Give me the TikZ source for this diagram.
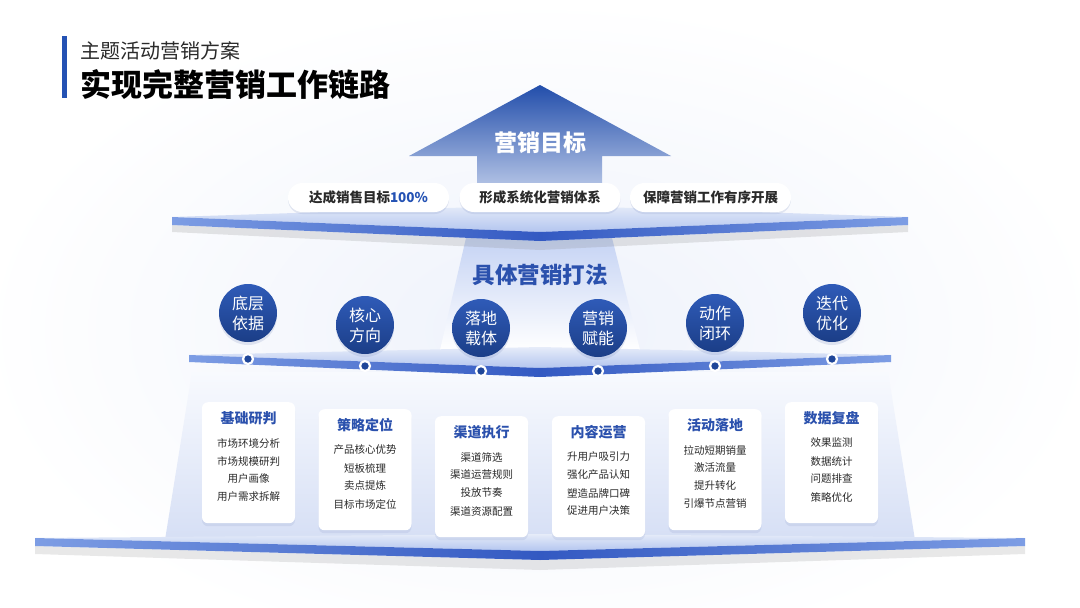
\documentclass[tikz,border=0pt]{standalone}
\usepackage{fontspec}
\setmainfont{Noto Sans CJK SC}
\usetikzlibrary{shadows}
\definecolor{deepblue}{HTML}{2452B4}
\definecolor{headblue}{HTML}{2B51AD}
\definecolor{textdark}{HTML}{2A2A2A}
\definecolor{glow}{HTML}{EEF2FB}
\definecolor{shadowblue}{HTML}{7D8FC0}
\definecolor{surfacetop}{HTML}{E6ECF9}
\definecolor{surfacebot}{HTML}{B3C5EF}
\definecolor{edgelight}{HTML}{7D9DE4}
\definecolor{edgedark}{HTML}{3359C2}
\definecolor{beamblue}{HTML}{C5D3F4}
\definecolor{backlight}{HTML}{F8FAFE}
\definecolor{backdark}{HTML}{D6DFF5}
\newcommand{\fsz}[2]{\fontsize{#1}{#2}\selectfont}
\tikzset{
	pill/.style={fill=white, rounded corners=14.5pt, minimum width=161, minimum height=29, inner sep=0,
		font=\fsz{13.5}{16}\bfseries, text=textdark,
		drop shadow={shadow xshift=0pt, shadow yshift=-2pt, opacity=.18, fill=shadowblue}},
	bubble/.style={circle, minimum size=58, inner sep=0, align=center, text=white, font=\fsz{16}{20},
		top color=deepblue!95!white, bottom color=deepblue!75!black,
		drop shadow={shadow xshift=0pt, shadow yshift=-3pt, opacity=.2, fill=shadowblue}},
	dot/.style={circle, minimum size=10, inner sep=0, fill=deepblue!85!black, draw=white, line width=2.2},
	card/.style={rectangle, fill=white, rounded corners=6pt, minimum width=93, minimum height=121, inner sep=0,
		drop shadow={shadow xshift=0pt, shadow yshift=-3pt, opacity=.15, fill=shadowblue}},
	cardtitle/.style={font=\fsz{14}{16}\bfseries, text=headblue, inner sep=0},
	item/.style={font=\fsz{10.5}{12}, text=textdark, inner sep=0}
}
\begin{document}
\begin{tikzpicture}[x=1pt, y=-1pt]
	\useasboundingbox (0,0) rectangle (1080,608);
	\fill[white] (0,0) rectangle (1080,608);
	\shade[inner color=glow, outer color=white] (540,330) ellipse [x radius=560, y radius=330];

	\fill[deepblue] (62,36) rectangle (67,98);
	\node[anchor=west, inner sep=0, font=\fsz{20}{24}, text=textdark] (subtitle) at (80,51) {主题活动营销方案};
	\node[anchor=west, inner sep=0, font=\fsz{31}{36}\bfseries, text=black] (title) at (80,85) {实现完整营销工作链路};

	\shade[top color=backlight, bottom color=backdark] (192,372)--(888,372)--(915,540)--(165,540)--cycle;

	\fill[gray, opacity=.18] (35,546)--(540,560)--(1025,546)--(1025,554)--(540,570)--(35,554)--cycle;
	\shade[top color=surfacetop, bottom color=surfacebot] (35,538)--(540,534)--(1025,538)--(540,551)--cycle;
	\shade[left color=edgelight, right color=edgedark] (35,538)--(540,551)--(540,560)--(35,546)--cycle;
	\shade[left color=edgedark, right color=edgelight] (540,551)--(1025,538)--(1025,546)--(540,560)--cycle;

	\foreach \x/\y/\t/\l [count=\i] in {
		248.5/402/基础研判/{市场环境分析,市场规模研判,用户画像,用户需求拆解},
		365/409/策略定位/{产品核心优势,短板梳理,卖点提炼,目标市场定位},
		481.5/416/渠道执行/{渠道筛选,渠道运营规则,投放节奏,渠道资源配置},
		598.5/416/内容运营/{升用户吸引力,强化产品认知,塑造品牌口碑,促进用户决策},
		715/409/活动落地/{拉动短期销量,激活流量,提升转化,引爆节点营销},
		831.5/402/数据复盘/{效果监测,数据统计,问题排查,策略优化}}
	{
		\node[card, anchor=north] (card\i) at (\x,\y) {};
		\node[cardtitle] (head\i) at (\x,{\y+16}) {\t};
		\foreach \s [count=\j] in \l
			\node[item] (item\i-\j) at (\x,{\y+41+(\j-1)*18}) {\s};
	}

	\shade[top color=beamblue, bottom color=white] (466,238)--(612,238)--(640,350)--(440,350)--cycle;

	\shade[top color=surfacetop, bottom color=surfacebot] (189,355)--(540,347)--(891,355)--(540,368)--cycle;
	\shade[left color=edgelight, right color=edgedark] (189,355)--(540,368)--(540,377)--(189,362)--cycle;
	\shade[left color=edgedark, right color=edgelight] (540,368)--(891,355)--(891,362)--(540,377)--cycle;

	\foreach \x/\y/\t [count=\i] in {248/313/底层\\依据, 365/325/核心\\方向, 481/328/落地\\载体,
		598/328/营销\\赋能, 715/323/动作\\闭环, 832/313/迭代\\优化}
		\node[bubble] (bub\i) at (\x,\y) {\t};
	\foreach \x/\y [count=\i] in {248/359, 365/366, 481/371, 598/371, 715/366, 832/359}
		\node[dot] (dot\i) at (\x,\y) {};

	\fill[gray, opacity=.2] (172,225)--(540,241)--(908,225)--(908,232)--(540,250)--(172,232)--cycle;
	\shade[top color=surfacetop, bottom color=surfacebot] (172,217)--(540,205)--(908,217)--(540,232)--cycle;
	\shade[left color=edgelight, right color=edgedark] (172,217)--(540,232)--(540,241)--(172,225)--cycle;
	\shade[left color=edgedark, right color=edgelight] (540,232)--(908,217)--(908,225)--(540,241)--cycle;

	\shade[top color=deepblue!95!black, middle color=deepblue!75!white, bottom color=deepblue!35!white]
		(540,85)--(671,156)--(602,156)--(602,186)--(477,186)--(477,156)--(409,156)--cycle;
	\node[font=\fsz{23}{26}\bfseries, text=white] (goal) at (540,143) {营销目标};

	\node[pill] (pillA) at (368.5,197.5) {达成销售目标{\color{deepblue}100\%}};
	\node[pill] (pillB) at (540,197.5) {形成系统化营销体系};
	\node[pill] (pillC) at (710.5,197.5) {保障营销工作有序开展};

	\node[font=\fsz{22.5}{26}\bfseries, text=headblue] (method) at (540,275) {具体营销打法};
\end{tikzpicture}
\end{document}
